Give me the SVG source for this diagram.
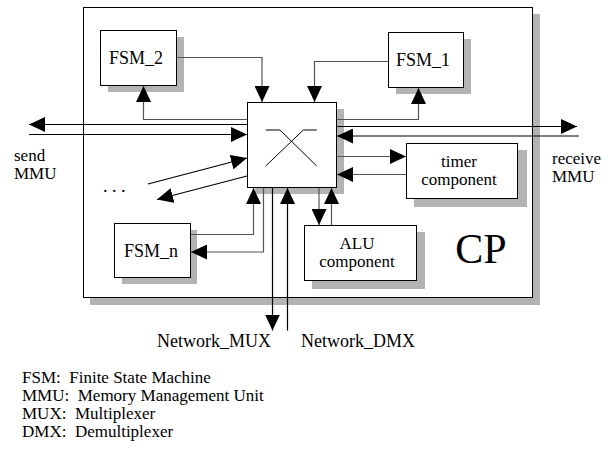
<svg xmlns="http://www.w3.org/2000/svg" width="616" height="449" viewBox="0 0 616 449" font-family="'Liberation Serif', 'DejaVu Serif', serif">
<defs>
<marker id="ah" markerWidth="16" markerHeight="15" refX="16" refY="7.5" orient="auto" markerUnits="userSpaceOnUse">
<path d="M0,0 L16,7.5 L0,15 Z" fill="#000"/>
</marker>
</defs>
<style>
text{font-family:'Liberation Serif','DejaVu Serif',serif;font-size:18px;fill:#000}
.mid{text-anchor:middle}
.shadow{fill:#b3b3b3;stroke:none}
.box{fill:#fff;stroke:#000;stroke-width:1}
.c{fill:none;stroke:#555;stroke-width:1.2}
.k{fill:none;stroke:#000;stroke-width:1.2}
.pre{white-space:pre}
.sm{font-size:17px}
</style>
<rect width="616" height="449" fill="#fff"/>
<g id="CP">
<rect class="shadow" x="90" y="14" width="450" height="291"/>
<rect class="box" x="83.5" y="7.5" width="449" height="290"/>
<text x="481" y="263" class="mid" style="font-size:42px">CP</text>
</g>
<g id="FSM_2">
<rect class="shadow" x="108" y="37" width="76" height="55"/>
<rect class="box" x="100.5" y="30.5" width="76" height="55"/>
<text x="136" y="64" class="mid">FSM_2</text>
</g>
<g id="FSM_1">
<rect class="shadow" x="396" y="39" width="75" height="55"/>
<rect class="box" x="388.5" y="32.5" width="75" height="55"/>
<text x="423" y="66" class="mid">FSM_1</text>
</g>
<g id="switch">
<rect class="shadow" x="255" y="109" width="89" height="85"/>
<rect class="box" x="247.5" y="102.5" width="89" height="85"/>
<path d="M265.7,130 H280 L316.7,166 M265.7,166 L303.3,130 H316.7" fill="none" stroke="#000" stroke-width="1"/>
</g>
<g id="timer">
<rect class="shadow" x="414" y="150" width="113" height="57"/>
<rect class="box" x="406.5" y="143.5" width="111" height="55"/>
<text x="459" y="167" class="mid sm">timer</text>
<text x="459" y="185" class="mid sm">component</text>
</g>
<g id="ALU">
<rect class="shadow" x="312" y="232" width="113" height="57"/>
<rect class="box" x="304.5" y="225.5" width="112" height="55"/>
<text x="357" y="249" class="mid sm">ALU</text>
<text x="357" y="267" class="mid sm">component</text>
</g>
<g id="FSM_n">
<rect class="shadow" x="122" y="230" width="75" height="54"/>
<rect class="box" x="114.5" y="223.5" width="76" height="54"/>
<text x="151" y="257" class="mid">FSM_n</text>
</g>
<g id="connectors">
<path class="c" d="M177,57.5 H262 V102" marker-end="url(#ah)"/>
<path class="c" d="M388,61.5 H314.5 V102" marker-end="url(#ah)"/>
<path class="c" d="M247,119.5 H143.5 V86" marker-end="url(#ah)"/>
<path class="c" d="M337,119.5 H418.5 V88" marker-end="url(#ah)"/>
<path class="k" d="M247,124.5 H29" marker-end="url(#ah)"/>
<path class="k" d="M29,134.5 H247" marker-end="url(#ah)"/>
<path class="k" d="M337,126.5 H577" marker-end="url(#ah)"/>
<path class="k" d="M579,136 H337" marker-end="url(#ah)"/>
<path class="c" d="M337,156.5 H406" marker-end="url(#ah)"/>
<path class="c" d="M406,174.5 H337" marker-end="url(#ah)"/>
<path class="k" d="M148,184 L247,158" marker-end="url(#ah)"/>
<path class="k" d="M247,176 L157,199.5" marker-end="url(#ah)"/>
<path class="c" d="M191,234.5 H253.5 V188" marker-end="url(#ah)"/>
<path class="c" d="M263.5,188 V252 H191" marker-end="url(#ah)"/>
<path class="k" d="M272.5,188 V330.5" marker-end="url(#ah)"/>
<path class="k" d="M287.5,330.5 V188" marker-end="url(#ah)"/>
<path class="c" d="M319,188 V225" marker-end="url(#ah)"/>
<path class="c" d="M331.5,225 V188" marker-end="url(#ah)"/>
</g>
<g id="labels">
<text x="14" y="161" class="sm">send</text>
<text x="14" y="179" class="sm">MMU</text>
<text x="552" y="164" class="sm">receive</text>
<text x="552" y="182" class="sm">MMU</text>
<text x="103" y="192">. . .</text>
<text x="157" y="347">Network_MUX</text>
<text x="301" y="347">Network_DMX</text>
</g>
<g id="legend">
<text x="22" y="383" class="pre sm">FSM:  Finite State Machine</text>
<text x="22" y="401" class="pre sm">MMU:  Memory Management Unit</text>
<text x="22" y="419" class="pre sm">MUX:  Multiplexer</text>
<text x="22" y="437" class="pre sm">DMX:  Demultiplexer</text>
</g>
</svg>
